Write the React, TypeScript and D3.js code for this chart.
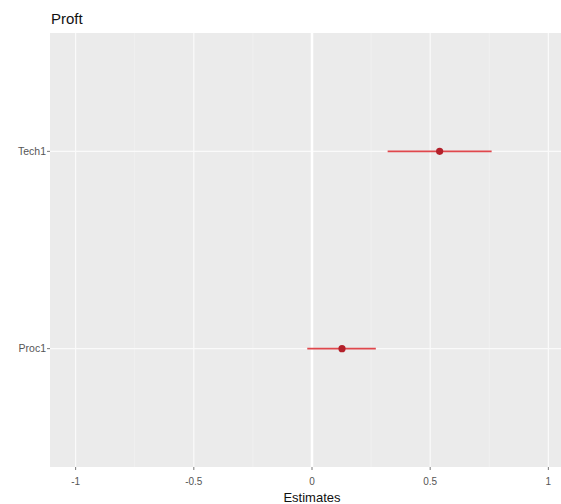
import React from "react";
import * as d3 from "d3";

const terms = ["Proc1", "Tech1"];
const estimates = [0.127, 0.54];
const ciLow = [-0.02, 0.32];
const ciHigh = [0.27, 0.76];
const xTicks = [-1, -0.5, 0, 0.5, 1];
const xTickLabels = ["-1", "-0.5", "0", "0.5", "1"];
const xMinor = [-0.75, -0.25, 0.25, 0.75];
const title = "Proft";
const xTitle = "Estimates";

const W = 561;
const H = 504;
const panel = { left: 50, top: 33, bottom: 467, right: 575 };

export default function App() {
  const x = d3.scaleLinear().domain([-1.1, 1.1]).range([52, 572]);
  const y = d3
    .scalePoint<string>()
    .domain(terms)
    .range([panel.bottom, panel.top])
    .padding(0.6);
  const font = "Liberation Sans, Arial, sans-serif";
  return (
    <svg
      width={W}
      height={H}
      style={{ position: "absolute", left: 0, top: 0, background: "#fff" }}
      fontFamily={font}
    >
      <text x={51} y={24} fontSize={15} fill="#111">
        {title}
      </text>
      <rect
        x={panel.left}
        y={panel.top}
        width={panel.right - panel.left}
        height={panel.bottom - panel.top}
        fill="#ebebeb"
      />
      {xMinor.map((v) => (
        <line key={"mi" + v} x1={x(v)} x2={x(v)} y1={panel.top} y2={panel.bottom} stroke="#f3f3f3" strokeWidth={0.8} />
      ))}
      {xTicks.map((v) => (
        <line key={"ma" + v} x1={x(v)} x2={x(v)} y1={panel.top} y2={panel.bottom} stroke="#fafafa" strokeWidth={1.2} />
      ))}
      {terms.map((t) => (
        <line key={"h" + t} x1={panel.left} x2={panel.right} y1={y(t)!} y2={y(t)!} stroke="#fafafa" strokeWidth={1.2} />
      ))}
      <line x1={x(0)} x2={x(0)} y1={panel.top} y2={panel.bottom} stroke="#fff" strokeWidth={2.5} />
      {terms.map((t, i) => (
        <g key={"m" + t}>
          <line x1={x(ciLow[i])} x2={x(ciHigh[i])} y1={y(t)!} y2={y(t)!} stroke="#e0474c" strokeWidth={1.6} />
          <circle cx={x(estimates[i])} cy={y(t)!} r={3.6} fill="#b3202a" />
        </g>
      ))}
      {xTicks.map((v, i) => (
        <g key={"xt" + v}>
          <line x1={x(v)} x2={x(v)} y1={panel.bottom} y2={panel.bottom + 3} stroke="#555" strokeWidth={0.8} />
          <text x={x(v)} y={panel.bottom + 18} fontSize={10} fill="#555" textAnchor="middle">
            {xTickLabels[i]}
          </text>
        </g>
      ))}
      {terms.map((t) => (
        <g key={"yt" + t}>
          <line x1={panel.left - 3} x2={panel.left} y1={y(t)!} y2={y(t)!} stroke="#555" strokeWidth={0.8} />
          <text x={panel.left - 4} y={y(t)! + 3.5} fontSize={10.5} fill="#555" textAnchor="end">
            {t}
          </text>
        </g>
      ))}
      <text x={x(0)} y={502} fontSize={13} fill="#111" textAnchor="middle">
        {xTitle}
      </text>
    </svg>
  );
}
